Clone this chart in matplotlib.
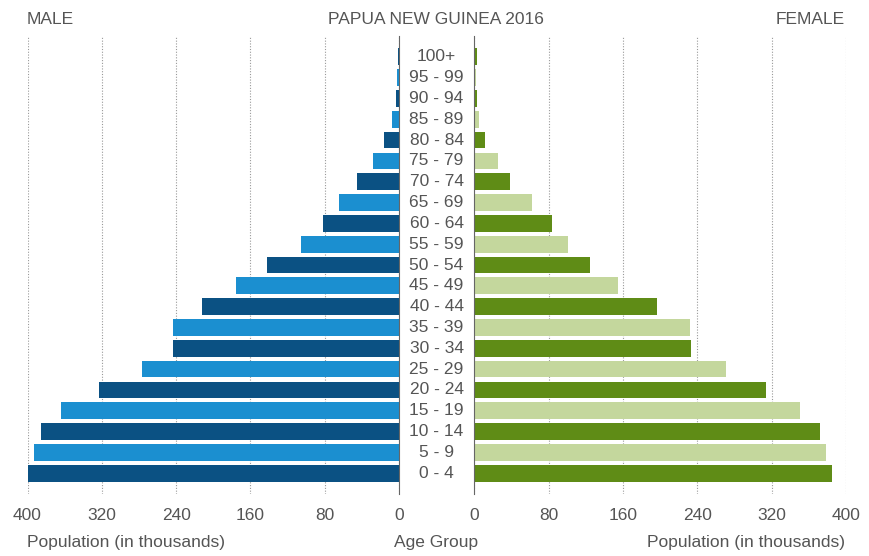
import matplotlib
matplotlib.use("Agg")
import matplotlib.pyplot as plt
import matplotlib.transforms as mtransforms
import numpy as np

# Papua New Guinea 2016 population pyramid (thousands)
age_groups = ["0 - 4", "5 - 9", "10 - 14", "15 - 19", "20 - 24", "25 - 29", "30 - 34",
              "35 - 39", "40 - 44", "45 - 49", "50 - 54", "55 - 59", "60 - 64", "65 - 69",
              "70 - 74", "75 - 79", "80 - 84", "85 - 89", "90 - 94", "95 - 99", "100+"]
male = [400, 393, 386, 364, 323, 277, 243, 243, 212, 175, 142, 105, 82, 65,
        45, 28, 16, 7.5, 3.5, 2, 1.5]
female = [385, 378, 372, 351, 314, 271, 233, 232, 197, 155, 124, 101, 84, 62,
          38, 26, 12, 5.5, 2.5, 2, 2.5]
ticks = [0, 80, 160, 240, 320, 400]

male_cols = ["#0b5183", "#1b8fd0"]
female_cols = ["#5f8c16", "#c4d79d"]
txt = "#555555"
fam = ["Liberation Sans", "DejaVu Sans"]
fs = 12.5

fig = plt.figure(figsize=(8.69, 5.56), dpi=100)
W, H = 869.0, 556.0
bot = 1 - 494 / H
top = 1 - 36 / H
ax_m = fig.add_axes([27.5 / W, bot, (399 - 27.5) / W, top - bot])
ax_f = fig.add_axes([474.3 / W, bot, (846 - 474.3) / W, top - bot])

y = np.arange(len(age_groups))
ax_m.barh(y, male, height=0.8, color=[male_cols[i % 2] for i in y], zorder=2)
ax_f.barh(y, female, height=0.8, color=[female_cols[i % 2] for i in y], zorder=2)

ax_m.set_xlim(400, 0)
ax_f.set_xlim(0, 400)
for ax in (ax_m, ax_f):
    ax.set_ylim(-1.0, 21.0)
    ax.set_yticks([])
    ax.set_xticks(ticks)
    ax.set_xticklabels([str(t) for t in ticks], family=fam, fontsize=fs, color=txt)
    ax.tick_params(axis="x", length=0, pad=10)
    ax.grid(axis="x", linestyle=(0, (1, 1.5)), color="#999999", linewidth=0.8, zorder=0)
    for s in ax.spines.values():
        s.set_visible(False)
ax_m.spines["right"].set_visible(True)
ax_m.spines["right"].set_color("#666666")
ax_m.spines["right"].set_linewidth(0.8)
ax_f.spines["left"].set_visible(True)
ax_f.spines["left"].set_color("#666666")
ax_f.spines["left"].set_linewidth(0.8)

# age labels in the middle column
tr = mtransforms.blended_transform_factory(fig.transFigure, ax_m.transData)
for i, lab in enumerate(age_groups):
    ax_m.text(436.5 / W, i, lab, transform=tr, ha="center", va="center",
              family=fam, fontsize=fs, color=txt)

fig.text(27 / W, 1 - 20 / H, "MALE", ha="left", va="center", family=fam, fontsize=fs, color=txt)
fig.text(436 / W, 1 - 20 / H, "PAPUA NEW GUINEA 2016", ha="center", va="center",
         family=fam, fontsize=fs, color=txt)
fig.text(845 / W, 1 - 20 / H, "FEMALE", ha="right", va="center", family=fam, fontsize=fs, color=txt)

fig.text(27 / W, 1 - 543 / H, "Population (in thousands)", ha="left", va="center",
         family=fam, fontsize=fs, color=txt)
fig.text(436 / W, 1 - 543 / H, "Age Group", ha="center", va="center",
         family=fam, fontsize=fs, color=txt)
fig.text(845 / W, 1 - 543 / H, "Population (in thousands)", ha="right", va="center",
         family=fam, fontsize=fs, color=txt)

fig.savefig("out.png", dpi=100)
